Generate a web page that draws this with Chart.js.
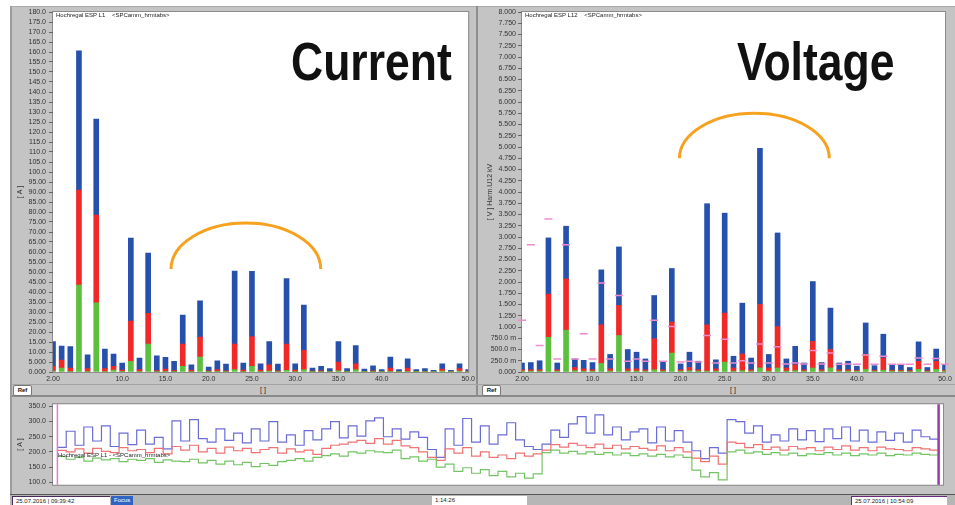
<!DOCTYPE html>
<html>
<head>
<meta charset="utf-8">
<script src="https://cdn.jsdelivr.net/npm/chart.js@4.4.1/dist/chart.umd.min.js"></script>
<style>
  html, body { margin: 0; padding: 0; background: #fff; }
  #wrap { position: relative; width: 955px; height: 505px; overflow: hidden; font-family: "Liberation Sans", Arial, sans-serif; }
  .abs { position: absolute; }
  #frame { left: 10px; top: 6px; width: 945px; height: 489px; background: #c4c4c4; border-left: 2px solid #9c9c9c; border-top: 1px solid #aaa; box-sizing: border-box; }
  canvas { position: absolute; }
  .big { font: bold 53px "Liberation Sans", Arial, sans-serif; line-height: 53px; color: #111; transform: scaleX(0.84); transform-origin: 0 0; white-space: nowrap; }
  .tiny { font-size: 6px; color: #222; white-space: nowrap; line-height: 7px; }
  .ref { width: 17px; height: 9px; background: #fff; border: 1px solid #777; border-radius: 2px; font: bold 6px "Liberation Sans", Arial, sans-serif; text-align: center; line-height: 9px; color: #111; }
  .box { height: 9px; background: #fff; font-size: 6px; line-height: 9px; color: #222; padding-left: 3px; box-sizing: border-box; white-space: nowrap; }
</style>
</head>
<body>
<div id="wrap">
  <div id="frame" class="abs"></div>
  <div class="abs" style="left:476px; top:6px; width:2px; height:390px; background:#8e8e8e;"></div>
  <div class="abs" style="left:12px; top:384px; width:943px; height:1px; background:#a4a4a4;"></div>
  <div class="abs" style="left:12px; top:395px; width:943px; height:2px; background:#8a8a8a;"></div>

  <canvas id="currentChart" width="478" height="384" style="left:0; top:0;"></canvas>
  <canvas id="voltageChart" width="477" height="384" style="left:478px; top:0;"></canvas>
  <canvas id="trendChart" width="955" height="95" style="left:0; top:397px;"></canvas>

  <div class="abs tiny" style="left:56px; top:12px;">Hochregal ESP L1 &nbsp;&nbsp; &lt;SPCamm_hrmtabs&gt;</div>
  <div class="abs tiny" style="left:525px; top:12px;">Hochregal ESP L12 &nbsp;&nbsp; &lt;SPCamm_hrmtabs&gt;</div>
  <div class="abs tiny" style="left:58px; top:452px;">Hochregal ESP L1 - &lt;SPCamm_hrmtabs&gt;</div>

  <div class="abs big" style="left:291px; top:35px;">Current</div>
  <div class="abs big" style="left:737px; top:35px;">Voltage</div>

  <div class="abs ref" style="left:13px; top:385px;">Ref</div>
  <div class="abs ref" style="left:482px; top:385px;">Ref</div>
  <div class="abs tiny" style="left:260px; top:386px; font-size:7px;">[ ]</div>
  <div class="abs tiny" style="left:730px; top:386px; font-size:7px;">[ ]</div>

  <div class="abs" style="left:10px; top:494px; width:945px; height:11px; background:#b6b6b6; border-top:1px solid #555; box-sizing:border-box;"></div>
  <div class="abs box" style="left:12px; top:496px; width:98px; border-top:1px solid #4a2a5a; border-left:1px solid #4a2a5a;">25.07.2016 | 09:39:42</div>
  <div class="abs box" style="left:111px; top:496px; width:22px; background:#2f64c4; color:#fff;">Focus</div>
  <div class="abs box" style="left:432px; top:496px; width:95px;">1:14:26</div>
  <div class="abs box" style="left:851px; top:496px; width:96px; border-top:1px solid #6a2a7a; border-left:1px solid #6a2a7a;">25.07.2016 | 10:54:09</div>
</div>

<script>
// ===========================
// Données
// ===========================
const harmonics = [2, 3, 4, 5, 6, 7, 8, 9, 10, 11, 12, 13, 14, 15, 16, 17, 18, 19, 20, 21, 22, 23, 24, 25, 26,
    27, 28, 29, 30, 31, 32, 33, 34, 35, 36, 37, 38, 39, 40, 41, 42, 43, 44, 45, 46, 47, 48, 49, 50];
const xTickHarmonics = [2, 10, 15, 20, 25, 30, 35, 40, 50];
const xTickLabels = ["2.00", "10.0", "15.0", "20.0", "25.0", "30.0", "35.0", "40.0", "50.0"];

// courant [A] par phase (segments empilés)
const currentL1 = [0.5, 2, 0.3, 43.4, 0.3, 34.6, 0.3, 1, 0.3, 5.3, 0.3, 13.9, 0.2, 0.3, 0.2, 2.8, 0.2, 7.5, 0.2, 0.3,
    0.2, 1.2, 0.2, 2.8, 0.2, 0.5, 0.2, 0.8, 0.2, 1.2, 0.1, 0.2, 0.1, 0.6, 0.1, 1.2, 0.1, 0.2, 0.1, 0.3,
    0.1, 0.3, 0.1, 0.1, 0.1, 0.5, 0.1, 0.5, 0.1];
const currentL2 = [2.3, 4, 1.7, 47.6, 1.4, 43.9, 1.4, 1.8, 0.7, 20.2, 0.9, 15.4, 0.5, 1.2, 0.5, 11.1, 0.8, 9.9, 0.4, 0.9,
    0.4, 12.7, 0.8, 14.9, 0.8, 3.1, 0.4, 13.2, 0.8, 9.6, 0.3, 0.4, 0.2, 4.4, 0.2, 2.9, 0.2, 0.4, 0.2, 1.7,
    0.2, 1.7, 0.2, 0.2, 0.1, 1.0, 0.1, 1.2, 0.2];
const currentL3 = [12.4, 7, 10.7, 69.6, 6.9, 48, 9.7, 6.1, 3.5, 41.4, 5.8, 30.1, 7.4, 5.8, 4.6, 14.6, 2.6, 18.2, 1.9, 4.4,
    3.4, 36.6, 3.5, 32.6, 3.1, 11.6, 3.4, 32.7, 3.1, 22.6, 1.6, 2.2, 1.4, 10.2, 1.4, 9.1, 1.2, 2.5, 0.9, 5.5,
    0.9, 4.6, 0.9, 1.4, 0.6, 2.6, 0.6, 2.4, 0.9];

// tension par phase (segments empilés) et limites
const voltageL1 = [0.02, 0.02, 0.02, 0.77, 0.02, 0.93, 0.03, 0.02, 0.02, 0.19, 0.02, 0.81, 0.02, 0.02, 0.02, 0.05, 0.02, 0.42, 0.02, 0.03,
    0.02, 0.02, 0.02, 0.22, 0.02, 0.03, 0.02, 0.09, 0.02, 0.09, 0.02, 0.03, 0.02, 0.09, 0.02, 0.09, 0.02, 0.02, 0.02, 0.06,
    0.02, 0.04, 0.02, 0.02, 0.01, 0.06, 0.01, 0.06, 0.02];
const voltageL2 = [0.03, 0.03, 0.03, 0.96, 0.03, 1.14, 0.07, 0.05, 0.03, 0.86, 0.05, 0.67, 0.05, 0.05, 0.03, 0.69, 0.03, 0.69, 0.03, 0.07,
    0.03, 1.03, 0.05, 1.09, 0.07, 0.37, 0.03, 1.41, 0.07, 0.92, 0.07, 0.13, 0.03, 0.59, 0.03, 0.41, 0.03, 0.03, 0.02, 0.33,
    0.02, 0.27, 0.02, 0.02, 0.02, 0.18, 0.02, 0.18, 0.02];
const voltageL3 = [0.15, 0.16, 0.2, 1.25, 0.15, 1.17, 0.19, 0.19, 0.16, 1.22, 0.32, 1.3, 0.43, 0.37, 0.24, 0.96, 0.17, 1.19, 0.13, 0.34,
    0.19, 2.69, 0.2, 2.22, 0.26, 1.13, 0.26, 3.47, 0.3, 2.08, 0.2, 0.41, 0.15, 1.33, 0.16, 0.92, 0.15, 0.19, 0.09, 0.7,
    0.1, 0.53, 0.11, 0.12, 0.07, 0.43, 0.07, 0.27, 0.11];
const voltageLimit = [1.15, 2.83, 0.59, 3.4, 0.29, 2.83, 0.29, 0.85, 0.29, 1.98, 0.29, 1.7, 0.24, 0.29, 0.24, 1.15, 0.24, 1.01, 0.22, 0.24,
    0.22, 0.81, 0.2, 0.73, 0.2, 0.25, 0.2, 0.62, 0.2, 0.56, 0.18, 0.2, 0.18, 0.48, 0.18, 0.42, 0.17, 0.18, 0.17, 0.38,
    0.17, 0.35, 0.17, 0.17, 0.17, 0.31, 0.17, 0.3, 0.17];

// courbe temporelle [A] 09:39:42 -> 10:54:09
const trendBlue = [215, 268, 222, 282, 236, 286, 218, 262, 224, 272,
    226, 248, 210, 302, 236, 306, 244, 232, 276, 238,
    262, 230, 276, 236, 300, 232, 256, 222, 270, 240,
    276, 300, 246, 286, 252, 302, 312, 250, 276, 242,
    266, 248, 208, 182, 276, 222, 310, 232, 286, 226,
    256, 296, 240, 218, 208, 226, 272, 248, 292, 316,
    262, 322, 256, 282, 240, 266, 276, 230, 282, 236,
    270, 232, 204, 178, 214, 196, 306, 300, 262, 286,
    232, 256, 236, 276, 240, 270, 234, 276, 244, 282,
    236, 272, 232, 266, 238, 262, 232, 272, 250, 242, 292];
const trendRed = [205, 200, 210, 196, 212, 202, 198, 214, 204, 208,
    198, 212, 194, 218, 206, 222, 200, 212, 196, 216,
    204, 212, 198, 208, 214, 196, 210, 200, 206, 192,
    212, 222, 226, 232, 238, 228, 244, 226, 238, 220,
    214, 200, 182, 172, 210, 196, 214, 186, 200, 182,
    190, 178, 196, 186, 194, 206, 224, 216, 228, 222,
    214, 226, 212, 222, 210, 218, 212, 206, 220, 204,
    214, 200, 180, 168, 186, 160, 232, 228, 214, 224,
    208, 216, 206, 218, 210, 214, 204, 216, 208, 220,
    206, 214, 204, 216, 210, 208, 204, 214, 210, 206, 236];
const trendGreen = [185, 176, 182, 170, 180, 174, 178, 168, 176, 172,
    178, 166, 174, 170, 168, 176, 164, 172, 160, 170,
    158, 166, 152, 162, 156, 168, 172, 178, 170, 182,
    188, 194, 186, 200, 196, 204, 200, 198, 206, 178,
    184, 170, 176, 150, 160, 136, 148, 130, 142, 122,
    136, 118, 130, 114, 128, 198, 206, 196, 202, 194,
    200, 192, 198, 190, 196, 188, 194, 186, 192, 184,
    190, 182, 140, 118, 132, 108, 200, 206, 196, 200,
    192, 198, 190, 196, 188, 194, 192, 198, 190, 196,
    188, 194, 190, 196, 188, 192, 190, 196, 192, 190, 198];
const trendTicks = [100, 150, 200, 250, 300, 350];

// ===========================
// Plugins
// ===========================
const plotFrame = {
    id: "plotFrame",
    beforeDraw(chart) {
        const { ctx, chartArea: a } = chart;
        ctx.save();
        ctx.fillStyle = "#fff";
        ctx.fillRect(a.left, a.top, a.right - a.left, a.bottom - a.top);
        ctx.strokeStyle = "#8c8c8c";
        ctx.lineWidth = 1;
        ctx.strokeRect(a.left - 0.5, a.top - 0.5, a.right - a.left + 1, a.bottom - a.top + 1);
        ctx.restore();
    }
};

// arc orange (en unités de données : harmonique, valeur)
const arcMark = {
    id: "arcMark",
    afterDatasetsDraw(chart, args, opts) {
        if (!opts || opts.cx === undefined) return;
        const x = chart.scales.x, y = chart.scales.y, ctx = chart.ctx;
        const cx = x.getPixelForValue(opts.cx - harmonics[0]);
        const rx = x.getPixelForValue(opts.cx + opts.rx - harmonics[0]) - cx;
        const cy = y.getPixelForValue(opts.cy);
        const ry = cy - y.getPixelForValue(opts.cy + opts.ry);
        ctx.save();
        ctx.strokeStyle = "#f6a21e";
        ctx.lineWidth = 3;
        ctx.beginPath();
        ctx.ellipse(cx, cy, rx, ry, 0, Math.PI, 2 * Math.PI);
        ctx.stroke();
        ctx.restore();
    }
};

const cursorLines = {
    id: "cursorLines",
    afterDatasetsDraw(chart) {
        const { ctx, chartArea: a } = chart;
        const x = chart.scales.x;
        const marks = [[0, "#e07ad0", 1.5], [trendBlue.length - 1, "#9a3aa8", 2.5]];
        ctx.save();
        marks.forEach(function (m) {
            const px = x.getPixelForValue(m[0]);
            ctx.strokeStyle = m[1];
            ctx.lineWidth = m[2];
            ctx.beginPath();
            ctx.moveTo(px, a.top);
            ctx.lineTo(px, a.bottom);
            ctx.stroke();
        });
        ctx.restore();
    }
};

const tickFont = { family: "'Liberation Sans', Arial, sans-serif", size: 7 };

function fmtCurrent(v) {
    if (v < 10) return v.toFixed(3);
    if (v < 100) return v.toFixed(2);
    return v.toFixed(1);
}

function fmtVoltage(v) {
    if (v > 0 && v < 1) return (v * 1000).toFixed(1) + " m";
    return v.toFixed(3);
}

function xAxis() {
    return {
        stacked: true,
        offset: false,
        grid: { display: false, drawTicks: false, tickLength: 0 },
        border: { display: false },
        afterBuildTicks: function (scale) {
            scale.ticks = xTickHarmonics.map(h => ({ value: harmonics.indexOf(h) }));
        },
        ticks: {
            autoSkip: false, maxRotation: 0, padding: 3, color: "#333", font: tickFont,
            callback: function (value) {
                return xTickLabels[xTickHarmonics.indexOf(harmonics[value])];
            }
        },
        afterFit: function (scale) { scale.height = 12; }
    };
}

function barSet(label, data, color) {
    return { label: label, data: data, backgroundColor: color, barThickness: 5, stack: "phases" };
}

// ===========================
// Courant
// ===========================
new Chart(document.getElementById("currentChart"), {
    type: "bar",
    data: {
        labels: harmonics,
        datasets: [
            barSet("L1", currentL1, "#5cbf3e"),
            barSet("L2", currentL2, "#f02828"),
            barSet("L3", currentL3, "#2750ad")
        ]
    },
    options: {
        responsive: false,
        animation: false,
        layout: { padding: { top: 12, right: 6, left: 0, bottom: 0 } },
        plugins: {
            legend: { display: false },
            tooltip: { enabled: false },
            arcMark: { cx: 24.3, rx: 8.65, cy: 51.5, ry: 23 }
        },
        scales: {
            x: xAxis(),
            y: {
                stacked: true, min: 0, max: 180,
                grid: { drawOnChartArea: false, tickLength: 4, color: "#666" },
                border: { display: false },
                ticks: { stepSize: 5, autoSkip: false, padding: 3, color: "#333", font: tickFont, callback: fmtCurrent },
                title: { display: true, text: "[ A ]", color: "#333", font: tickFont, padding: { top: 16, bottom: 0 } },
                afterFit: function (scale) { scale.width = 53; }
            }
        }
    },
    plugins: [plotFrame, arcMark]
});

// ===========================
// Tension
// ===========================
new Chart(document.getElementById("voltageChart"), {
    type: "bar",
    data: {
        labels: harmonics,
        datasets: [
            {
                type: "line", label: "Limit", data: voltageLimit, stack: "limit",
                showLine: false, pointStyle: "line", pointRadius: 4, pointBorderWidth: 1.5,
                borderColor: "#ee8ccb", pointBorderColor: "#ee8ccb"
            },
            barSet("L1", voltageL1, "#5cbf3e"),
            barSet("L2", voltageL2, "#f02828"),
            barSet("L3", voltageL3, "#2750ad")
        ]
    },
    options: {
        responsive: false,
        animation: false,
        layout: { padding: { top: 12, right: 10, left: 0, bottom: 0 } },
        plugins: {
            legend: { display: false },
            tooltip: { enabled: false },
            arcMark: { cx: 28.37, rx: 8.5, cy: 4.75, ry: 1.0 }
        },
        scales: {
            x: xAxis(),
            y: {
                stacked: true, min: 0, max: 8,
                grid: { drawOnChartArea: false, tickLength: 4, color: "#666" },
                border: { display: false },
                ticks: { stepSize: 0.25, autoSkip: false, padding: 2, color: "#333", font: tickFont, callback: fmtVoltage },
                title: { display: true, text: "[ V ] Harm.U12 kV", color: "#333", font: tickFont, padding: { top: 8, bottom: 0 } },
                afterFit: function (scale) { scale.width = 44; }
            }
        }
    },
    plugins: [plotFrame, arcMark]
});

// ===========================
// Courbe temporelle
// ===========================
function trendSet(label, values, color) {
    return {
        label: label,
        data: values.map((v, i) => ({ x: i, y: v })),
        borderColor: color,
        borderWidth: 1.2,
        pointRadius: 0,
        stepped: true,
        fill: false
    };
}

new Chart(document.getElementById("trendChart"), {
    type: "line",
    data: {
        datasets: [
            trendSet("L3", trendGreen, "#74c464"),
            trendSet("L2", trendRed, "#f07272"),
            trendSet("L1", trendBlue, "#6c6cd6")
        ]
    },
    options: {
        responsive: false,
        animation: false,
        layout: { padding: { top: 3, right: 12, left: 0, bottom: 1 } },
        plugins: { legend: { display: false }, tooltip: { enabled: false } },
        scales: {
            x: { type: "linear", display: false, min: -0.5, max: trendBlue.length - 0.5 },
            y: {
                min: 92, max: 357,
                afterBuildTicks: function (scale) {
                    scale.ticks = trendTicks.map(v => ({ value: v }));
                },
                grid: { drawOnChartArea: false, tickLength: 4, color: "#666" },
                border: { display: false },
                ticks: { autoSkip: false, padding: 3, color: "#333", font: tickFont, callback: v => v.toFixed(1) },
                title: { display: true, text: "[ A ]", color: "#333", font: tickFont, padding: { top: 16, bottom: 0 } },
                afterFit: function (scale) { scale.width = 53; }
            }
        }
    },
    plugins: [plotFrame, cursorLines]
});
</script>
</body>
</html>
